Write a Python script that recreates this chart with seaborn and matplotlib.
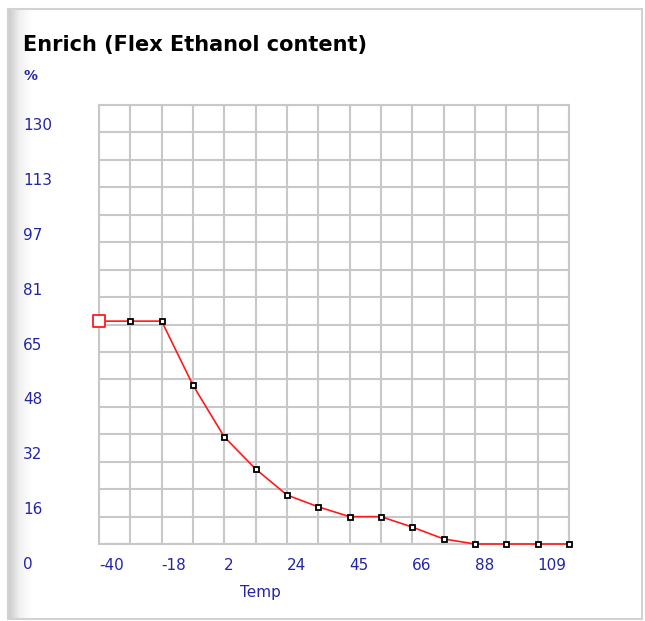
import numpy as np
import matplotlib
matplotlib.use("Agg")
import matplotlib.pyplot as plt
import matplotlib.transforms as mtransforms
from matplotlib.patches import Rectangle
from matplotlib.colors import LinearSegmentedColormap
import seaborn as sns
import pandas as pd

# ---- data ----
temps = [-40, -29.33, -18.67, -8, 2.67, 13.33, 24, 34.67, 45.33, 56,
         66.67, 77.33, 88, 98.67, 109.33, 120]
enrich = [66, 66, 66, 47, 31.7, 22.2, 14.5, 11, 8.1, 8.1, 5, 1.5, 0, 0, 0, 0]
x_tick_vals = [-40, -18.67, 2.67, 24, 45.33, 66.67, 88, 109.33]
x_tick_labels = ["-40", "-18", "2", "24", "45", "66", "88", "109"]
y_tick_vals = [0, 16.25, 32.5, 48.75, 65, 81.25, 97.5, 113.75, 130]
y_tick_labels = ["0", "16", "32", "48", "65", "81", "97", "113", "130"]
title = "Enrich (Flex Ethanol content)"
x_label = "Temp"
y_unit = "%"

df = pd.DataFrame({"temp": temps, "enrich": enrich})

sns.set_style("white")
plt.rcParams["font.family"] = ["DejaVu Sans"]

W, H = 645, 621
fig = plt.figure(figsize=(W / 100, H / 100), dpi=100)
fig.patch.set_facecolor("white")

# frame + left gradient shadow
grad_ax = fig.add_axes([8 / W, 2 / H, 24 / W, 610 / H], zorder=0)
cmap = LinearSegmentedColormap.from_list("g", ["#c8c8c8", "#f2f2f2", "#ffffff"])
grad_ax.imshow(np.linspace(0, 1, 64)[None, :], aspect="auto", cmap=cmap,
               extent=[0, 1, 0, 1])
grad_ax.axis("off")
fig.patches.append(Rectangle((8 / W, 2 / H), 634 / W, 610 / H,
                             transform=fig.transFigure, fill=False,
                             edgecolor="#d2d2d2", lw=1.5, zorder=1))

ax = fig.add_axes([99 / W, 1 - 544 / H, (569 - 99) / W, (544 - 105) / H], zorder=2)
ax.set_facecolor("none")

grid_c = "#c8c8c8"
blue = "#2424a8"

sns.lineplot(data=df, x="temp", y="enrich", ax=ax, color="#ff1a1a", lw=1.2,
             marker="s", markersize=3.6, markerfacecolor="white",
             markeredgecolor="black", markeredgewidth=1.3, zorder=5,
             clip_on=False)
sns.scatterplot(data=df.iloc[:1], x="temp", y="enrich", ax=ax, marker="s",
                s=65, facecolor="white", edgecolor="#ff1a1a", linewidth=1.3,
                zorder=6, clip_on=False)

ax.set_xlim(temps[0], temps[-1])
ax.set_ylim(0, 130)
ax.set_xticks(x_tick_vals)
ax.set_xticks(temps, minor=True)
ax.set_yticks(y_tick_vals)
ax.set_yticks(np.array(y_tick_vals[:-1]) + 8.125, minor=True)
ax.set_xticklabels(x_tick_labels, ha="left", color=blue, fontsize=11)
ax.set_yticklabels(y_tick_labels, ha="left", color=blue, fontsize=11)
ax.grid(True, which="both", color=grid_c, lw=1.5)
ax.tick_params(which="both", length=0)
ax.tick_params(axis="x", pad=10)
ax.tick_params(axis="y", pad=54.7)
for s in ax.spines.values():
    s.set_color(grid_c)
    s.set_linewidth(1.5)
ax.set_xlabel("")
ax.set_ylabel("")

off = mtransforms.ScaledTranslation(0, -0.19, fig.dpi_scale_trans)
for lab in ax.get_yticklabels():
    lab.set_transform(lab.get_transform() + off)

fig.text(23 / W, 1 - 45 / H, title, fontsize=15, fontweight="bold",
         ha="left", va="center", color="black")
fig.text(23 / W, 1 - 76 / H, y_unit, fontsize=10, fontweight="bold",
         ha="left", va="center", color=blue)
fig.text(260 / W, 1 - 593 / H, x_label, fontsize=11, ha="center",
         va="center", color=blue)

fig.savefig("out.png", dpi=100, facecolor="white")
